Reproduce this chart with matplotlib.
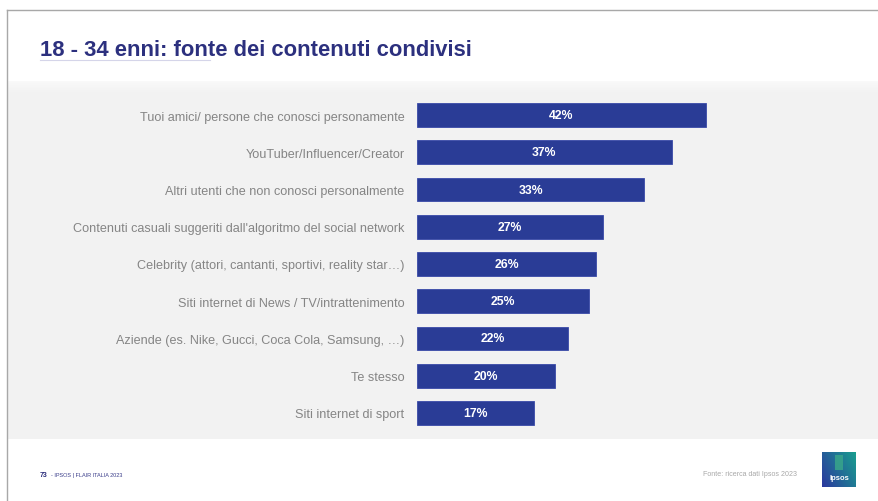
import numpy as np
import matplotlib.pyplot as plt
from matplotlib.patches import Rectangle

plt.rcParams['font.family'] = ['Liberation Sans', 'DejaVu Sans']

# Data
categories = [
    "Tuoi amici/ persone che conosci personamente",
    "YouTuber/Influencer/Creator",
    "Altri utenti che non conosci personalmente",
    "Contenuti casuali suggeriti dall'algoritmo del social network",
    "Celebrity (attori, cantanti, sportivi, reality star\u2026)",
    "Siti internet di News / TV/intrattenimento",
    "Aziende (es. Nike, Gucci, Coca Cola, Samsung, \u2026)",
    "Te stesso",
    "Siti internet di sport",
]
values = [42, 37, 33, 27, 26, 25, 22, 20, 17]

W, H = 879, 502
fig = plt.figure(figsize=(W / 100, H / 100), dpi=100)
fig.patch.set_facecolor('white')

def fx(px):
    return px / W

def fy(py):
    return 1 - py / H

# Background layer: slide frame, grey panel
bg = fig.add_axes([0, 0, 1, 1], zorder=0)
bg.set_xlim(0, W)
bg.set_ylim(H, 0)
bg.axis('off')
bg.add_patch(Rectangle((7, 82), W - 7, 358, facecolor='#f2f2f2', edgecolor='none'))
# soft light band at the top of the panel
for i in range(12):
    a = 0.55 * (1 - i / 12)
    bg.add_patch(Rectangle((7, 82 + i), W - 7, 1, facecolor='white', alpha=a, edgecolor='none'))
bg.plot([7, W], [11, 11], color='#a8a8a8', lw=1.0)
bg.plot([7, 7], [11, H], color='#a8a8a8', lw=1.0)

# Title and its underline
fig.text(fx(40), fy(50), "18 - 34 enni: fonte dei contenuti condivisi",
         fontsize=15.8, fontweight='bold', color='#2c307e', va='center', ha='left')
bg.plot([40, 210], [61, 61], color='#c4c4e0', lw=0.8, alpha=0.7)

# Footer
fig.text(fx(40), fy(476), "73", fontsize=5, fontweight='bold', color='#2c2f7c', va='center')
fig.text(fx(51), fy(476), "- IPSOS | FLAIR ITALIA 2023", fontsize=4, color='#3a3d8a', va='center')
fig.text(fx(797), fy(474), "Fonte: ricerca dati Ipsos 2023", fontsize=5.1, color='#a8a8a8',
         va='center', ha='right')

# Ipsos logo block
grad = np.linspace(0, 1, 64)
gx, gy = np.meshgrid(grad, grad)
t = np.clip(0.65 * gx + 0.35 * (1 - gy), 0, 1)
c1 = np.array([0.17, 0.22, 0.62])
c2 = np.array([0.10, 0.62, 0.56])
img = c1[None, None, :] * (1 - t[..., None]) + c2[None, None, :] * t[..., None]
bg.imshow(img, extent=(822, 856, 488, 453), zorder=2, interpolation='bilinear')
bg.add_patch(Rectangle((835, 456), 8, 15, facecolor='#3aa889', edgecolor='none', zorder=3, alpha=0.8))
bg.text(839, 479, "Ipsos", fontsize=5.5, color='white', ha='center', va='center', zorder=4,
        fontweight='bold')
bg.set_xlim(0, W)
bg.set_ylim(H, 0)

# Bar chart
x0, x1 = 417, 761          # 0% .. 50%
ytop, ybot = 97.4, 432.6
ax = fig.add_axes([fx(x0), fy(ybot), (x1 - x0) / W, (ybot - ytop) / H], zorder=1)
ax.patch.set_alpha(0)
y = np.arange(len(categories))
ax.barh(y, values, height=0.64, color='#2a3c96', edgecolor='#3a4aa8', linewidth=0.6)
for yi, v in zip(y, values):
    ax.text(v / 2, yi, f"{v}%", ha='center', va='center', color='white',
            fontsize=8.8, fontweight='bold')
ax.set_xlim(0, 50)
ax.set_ylim(len(categories) - 0.5, -0.5)
ax.set_yticks(y)
ax.set_yticklabels(categories, fontsize=9.1, color='#858585')
ax.tick_params(axis='y', length=0, pad=9)
ax.set_xticks([])
for s in ax.spines.values():
    s.set_visible(False)

fig.savefig('out.png', dpi=100, facecolor='white')
